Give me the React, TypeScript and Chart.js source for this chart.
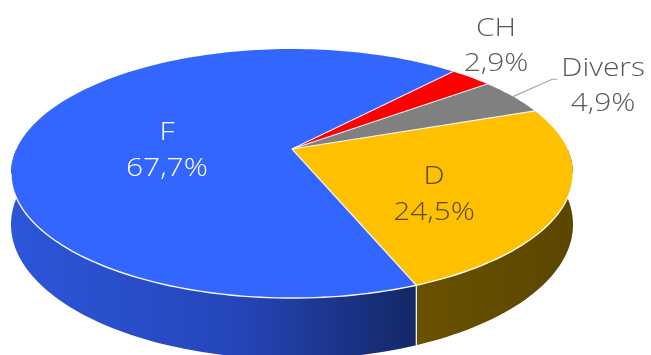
import React, { useEffect, useRef } from "react";
import { Chart, registerables } from "chart.js";

Chart.register(...registerables);

// ---- data ----
const categories = ["CH", "Divers", "D", "F"];
const shares = [2.9, 4.9, 24.5, 67.7];
const valueLabels = ["2,9%", "4,9%", "24,5%", "67,7%"];

// ---- styles ----
const topColors = ["#FF0000", "#808080", "#FFC000", "#3366FF"];
const sideColors = ["#8c0000", "#4a4a4a", "#654d00", "#2447b8"];
const labelColors = ["#595959", "#595959", "#5a4a14", "#ffffff"];
// radial fraction and angular nudge (deg) of each data label
const labelRadius = [1.367, 1.39, 0.596, 0.453];
const labelNudge = [-6.6, 3.64, 12.1, -11.85];
const leaderLine = [false, true, false, false];

const PERSP = 0.197; // perspective strength
const SX = 275.5 / 149;
const SY = 119.7 / 149;
const DEPTH = 49;
const FONT = "300 26px 'Open Sans', sans-serif";
const TEXT_STRETCH = 1.15;

function proj(cx: number, cy: number, A: number, B: number, t: number, r: number) {
  const u = r * Math.cos(t);
  const v = r * Math.sin(t);
  const w = 1 - PERSP * v;
  return { x: cx + (A * u) / w, y: cy + (B * v) / w, w };
}

function wideText(ctx: CanvasRenderingContext2D, text: string, x: number, y: number) {
  ctx.save();
  ctx.translate(x, y);
  ctx.scale(TEXT_STRETCH, 1);
  ctx.fillText(text, 0, 0);
  ctx.restore();
}

const pie3d = {
  id: "pie3d",
  beforeDatasetsDraw(chart: any) {
    const ctx: CanvasRenderingContext2D = chart.ctx;
    const meta = chart.getDatasetMeta(0);
    const arcs = meta.data as any[];
    if (!arcs.length) return false;
    const cx = arcs[0].x;
    const cy = arcs[0].y;
    const R = arcs[0].outerRadius;
    const A = R * SX;
    const B = R * SY;
    const steps = 240;

    // ---- side walls ----
    arcs.forEach((arc, i) => {
      for (let k = -1; k <= 1; k++) {
        const s = Math.max(arc.startAngle + k * 2 * Math.PI, 0);
        const e = Math.min(arc.endAngle + k * 2 * Math.PI, Math.PI);
        if (e <= s) continue;
        const n = Math.max(4, Math.ceil(((e - s) / (2 * Math.PI)) * steps));
        ctx.beginPath();
        for (let j = 0; j <= n; j++) {
          const t = s + ((e - s) * j) / n;
          const p = proj(cx, cy, A, B, t, 1);
          if (j === 0) ctx.moveTo(p.x, p.y);
          else ctx.lineTo(p.x, p.y);
        }
        for (let j = n; j >= 0; j--) {
          const t = s + ((e - s) * j) / n;
          const p = proj(cx, cy, A, B, t, 1);
          ctx.lineTo(p.x, p.y + DEPTH / p.w);
        }
        ctx.closePath();
        let fill: any = sideColors[i];
        if (categories[i] === "F") {
          const g = ctx.createLinearGradient(cx - A, 0, cx + A * 0.45, 0);
          g.addColorStop(0, "#2d55d8");
          g.addColorStop(0.55, "#2546ba");
          g.addColorStop(1, "#142766");
          fill = g;
        } else if (categories[i] === "D") {
          const g = ctx.createLinearGradient(cx + A * 0.4, 0, cx + A, 0);
          g.addColorStop(0, "#6b5200");
          g.addColorStop(1, "#5c4600");
          fill = g;
        }
        ctx.fillStyle = fill;
        ctx.fill();
        // white edge at slice boundaries on the wall
        ctx.strokeStyle = "rgba(255,255,255,0.9)";
        ctx.lineWidth = 1.2;
        [arc.startAngle + k * 2 * Math.PI, arc.endAngle + k * 2 * Math.PI].forEach((t) => {
          if (t > 0.01 && t < Math.PI - 0.01) {
            const p = proj(cx, cy, A, B, t, 1);
            ctx.beginPath();
            ctx.moveTo(p.x, p.y);
            ctx.lineTo(p.x, p.y + DEPTH / p.w);
            ctx.stroke();
          }
        });
      }
    });

    // ---- top faces ----
    arcs.forEach((arc, i) => {
      const s = arc.startAngle;
      const e = arc.endAngle;
      const n = Math.max(4, Math.ceil(((e - s) / (2 * Math.PI)) * steps));
      ctx.beginPath();
      const c = proj(cx, cy, A, B, 0, 0);
      ctx.moveTo(c.x, c.y);
      for (let j = 0; j <= n; j++) {
        const t = s + ((e - s) * j) / n;
        const p = proj(cx, cy, A, B, t, 1);
        ctx.lineTo(p.x, p.y);
      }
      ctx.closePath();
      ctx.fillStyle = topColors[i];
      ctx.fill();
    });
    // slice boundaries on top
    ctx.strokeStyle = "rgba(255,255,255,0.85)";
    ctx.lineWidth = 1.2;
    arcs.forEach((arc) => {
      const c = proj(cx, cy, A, B, 0, 0);
      const p = proj(cx, cy, A, B, arc.startAngle, 1);
      ctx.beginPath();
      ctx.moveTo(c.x, c.y);
      ctx.lineTo(p.x, p.y);
      ctx.stroke();
    });
    // rim highlight along the front edge
    ctx.beginPath();
    const a0 = Math.asin(PERSP);
    const a1 = Math.PI - a0;
    for (let j = 0; j <= 120; j++) {
      const t = a0 + ((a1 - a0) * j) / 120;
      const p = proj(cx, cy, A, B, t, 1);
      if (j === 0) ctx.moveTo(p.x, p.y);
      else ctx.lineTo(p.x, p.y);
    }
    ctx.strokeStyle = "rgba(255,255,255,0.95)";
    ctx.lineWidth = 1.4;
    ctx.stroke();

    // ---- labels ----
    ctx.font = FONT;
    ctx.textAlign = "center";
    ctx.textBaseline = "middle";
    const lh = 35.5;
    arcs.forEach((arc, i) => {
      const mid = (arc.startAngle + arc.endAngle) / 2;
      const t = mid + (labelNudge[i] * Math.PI) / 180;
      const a = proj(cx, cy, A, B, t, labelRadius[i]);
      const y1 = a.y - lh / 2;
      const y2 = a.y + lh / 2;
      ctx.fillStyle = labelColors[i];
      wideText(ctx, categories[i], a.x, y1);
      wideText(ctx, valueLabels[i], a.x, y2);
      if (leaderLine[i]) {
        const w1 = ctx.measureText(categories[i]).width * TEXT_STRETCH;
        const ex = a.x - w1 / 2 - 4;
        const ey = y1 + 11;
        const rim = proj(cx, cy, A, B, mid, 1);
        ctx.beginPath();
        ctx.moveTo(rim.x, rim.y);
        ctx.lineTo(ex - 5, ey);
        ctx.lineTo(ex, ey);
        ctx.strokeStyle = "#a6a6a6";
        ctx.lineWidth = 1.2;
        ctx.stroke();
      }
    });
    return false;
  },
};

export default function App() {
  const ref = useRef<HTMLCanvasElement | null>(null);
  useEffect(() => {
    if (!ref.current) return;
    const chart = new Chart(ref.current, {
      type: "pie",
      data: {
        labels: categories,
        datasets: [
          {
            data: shares,
            backgroundColor: topColors,
            borderWidth: 0,
          },
        ],
      },
      options: {
        animation: false,
        responsive: true,
        maintainAspectRatio: false,
        devicePixelRatio: 1,
        rotation: 42.1,
        layout: { padding: { left: 0, right: 67, top: 0, bottom: 57 } },
        plugins: {
          legend: { display: false },
          tooltip: { enabled: false },
        },
      },
      plugins: [pie3d],
    });
    return () => chart.destroy();
  }, []);
  return (
    <div style={{ position: "fixed", left: 0, top: 0, width: 651, height: 355, background: "#ffffff" }}>
      <canvas ref={ref} />
    </div>
  );
}
